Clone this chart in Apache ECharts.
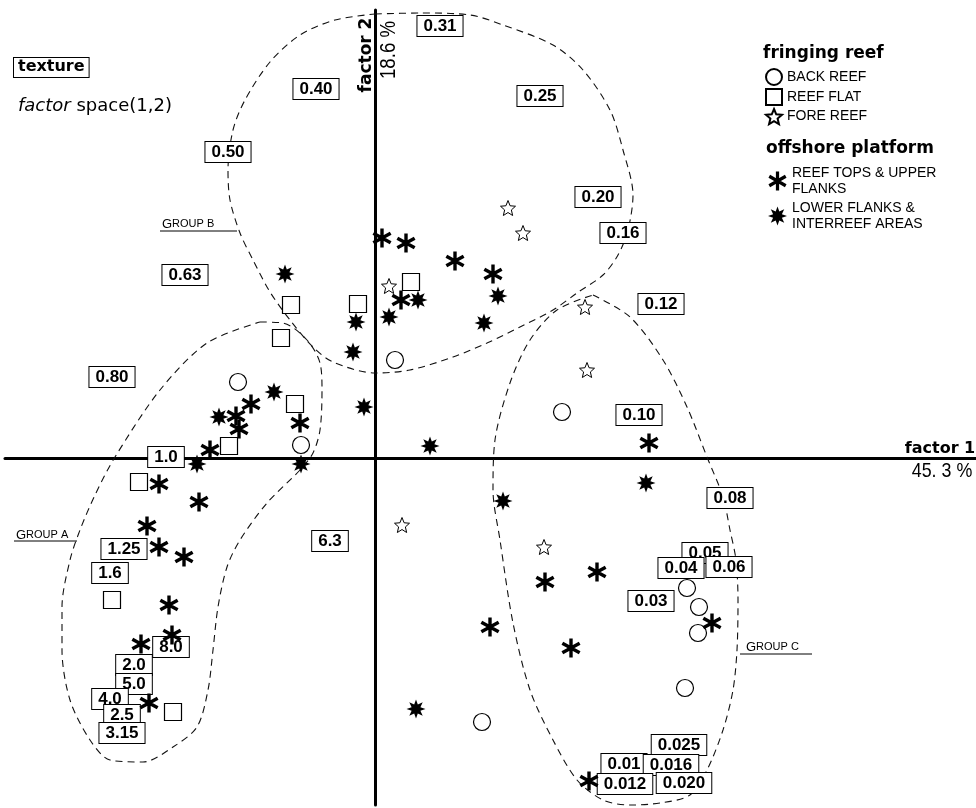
<!DOCTYPE html>
<html>
<head>
<meta charset="utf-8">
<script src="https://cdn.jsdelivr.net/npm/echarts@6/dist/echarts.min.js"></script>
<style>
  html, body { margin: 0; padding: 0; background: #fff; }
  #chart { width: 976px; height: 808px; }
</style>
</head>
<body>
<div id="chart"></div>
<script>
// Sample scores on factor 1 (x) and factor 2 (y)

// fringing reef
const backReef = [
  [-1.37, 0.76], [-0.74, 0.13], [0.20, 0.98], [1.87, 0.46], [3.12, -1.30],
  [3.24, -1.49], [3.23, -1.75], [3.10, -2.30], [1.07, -2.64]
];
const reefFlat = [
  [-0.84, 1.53], [-0.17, 1.54], [-0.94, 1.20], [-0.80, 0.54], [-1.46, 0.12],
  [-2.36, -0.24], [-2.63, -1.42], [-2.02, -2.54], [0.36, 1.76]
];
const foreReef = [
  [1.33, 2.50], [1.48, 2.25], [0.14, 1.72], [2.10, 1.51], [2.12, 0.88],
  [0.27, -0.67], [1.69, -0.89]
];

// offshore platform
const reefTops = [
  [0.07, 2.20], [0.31, 2.15], [0.80, 1.97], [1.18, 1.84], [0.26, 1.58],
  [-1.24, 0.54], [-1.39, 0.42], [-1.36, 0.29], [-0.75, 0.35], [-1.65, 0.08],
  [-2.16, -0.26], [-1.76, -0.44], [-2.28, -0.68], [-2.16, -0.89], [-1.91, -0.99],
  [-2.06, -1.47], [-2.03, -1.77], [-2.34, -1.86], [-2.26, -2.45], [2.74, 0.15],
  [2.22, -1.14], [1.70, -1.24], [1.15, -1.69], [1.96, -1.90], [3.37, -1.65],
  [2.14, -3.23]
];
const lowerFlanks = [
  [-0.90, 1.84], [-0.19, 1.36], [-0.22, 1.06], [0.14, 1.41], [0.43, 1.58],
  [1.23, 1.62], [1.09, 1.35], [-0.11, 0.51], [-1.01, 0.66], [-1.56, 0.41],
  [-1.78, -0.06], [-0.74, -0.06], [0.55, 0.12], [1.28, -0.43], [2.71, -0.25],
  [0.41, -2.51]
];

// texture (grain size) variables projected into the same factor space
const textureNames = [
  '0.31', '0.40', '0.25', '0.50', '0.20', '0.16', '0.63', '0.12', '0.80', '0.10',
  '1.0', '0.08', '6.3', '1.25', '1.6', '0.05', '0.04', '0.06', '0.03', '8.0',
  '2.0', '5.0', '4.0', '2.5', '3.15', '0.025', '0.01', '0.016', '0.012', '0.020'
];
const textureF1 = [
  0.65, -0.59, 1.65, -1.47, 2.23, 2.48, -1.90, 2.86, -2.63, 2.64,
  -2.09, 3.55, -0.45, -2.51, -2.65, 3.30, 3.06, 3.54, 2.76, -2.04,
  -2.41, -2.41, -2.65, -2.53, -2.53, 3.04, 2.49, 2.96, 2.50, 3.09
];
const textureF2 = [
  4.32, 3.69, 3.62, 3.06, 2.61, 2.25, 1.83, 1.54, 0.81, 0.43,
  0.01, -0.40, -0.83, -0.91, -1.15, -0.95, -1.10, -1.09, -1.43, -1.89,
  -2.07, -2.26, -2.41, -2.57, -2.75, -2.87, -3.06, -3.07, -3.26, -3.25
];

// outlines of the three sample groups
const groupA = [
  [-1.15, 1.36], [-0.92, 1.35], [-0.68, 1.18], [-0.55, 0.95], [-0.53, 0.68],
  [-0.55, 0.28], [-0.62, 0.05], [-0.75, -0.12], [-1.08, -0.45], [-1.35, -0.82],
  [-1.48, -1.09], [-1.57, -1.49], [-1.62, -1.92], [-1.67, -2.32], [-1.78, -2.69],
  [-2.02, -2.89], [-2.32, -3.04], [-2.65, -3.02], [-2.85, -2.82], [-3.05, -2.42],
  [-3.13, -1.92], [-3.13, -1.49], [-3.05, -1.02], [-2.95, -0.72], [-2.80, -0.37],
  [-2.60, 0.01], [-2.15, 0.68], [-1.68, 1.15], [-1.15, 1.36]
];
const groupB = [
  [0, 4.44], [0.45, 4.45], [0.95, 4.43], [1.28, 4.33], [1.78, 4.13],
  [2.08, 3.88], [2.35, 3.48], [2.48, 3.08], [2.58, 2.63], [2.53, 2.28],
  [2.43, 2.03], [2.28, 1.83], [2.02, 1.65], [1.78, 1.48], [1.45, 1.31],
  [1.12, 1.15], [0.78, 1.01], [0.35, 0.88], [0, 0.85], [-0.42, 0.96],
  [-0.62, 1.11], [-0.85, 1.38], [-1.05, 1.66], [-1.22, 1.98], [-1.35, 2.25],
  [-1.45, 2.58], [-1.47, 2.88], [-1.42, 3.28], [-1.30, 3.58], [-1.05, 3.96],
  [-0.75, 4.23], [-0.40, 4.38], [0, 4.44]
];
const groupC = [
  [2.18, 1.63], [2.55, 1.41], [2.88, 0.98], [3.12, 0.51], [3.32, 0.01],
  [3.48, -0.39], [3.55, -0.72], [3.61, -1.02], [3.63, -1.42], [3.62, -1.92],
  [3.58, -2.32], [3.48, -2.72], [3.32, -3.12], [3.15, -3.37], [2.85, -3.45],
  [2.55, -3.47], [2.28, -3.42], [2.02, -3.22], [1.78, -2.82], [1.55, -2.32],
  [1.38, -1.65], [1.25, -0.82], [1.18, -0.32], [1.20, 0.18], [1.35, 0.75],
  [1.55, 1.18], [1.82, 1.48], [2.18, 1.63]
];

// marker shapes
const ASTERISK = 'path://M-1.7,-10L1.7,-10L1.7,10L-1.7,10Z' +
  'M7.81,6.47L-9.51,-3.53L-7.81,-6.47L9.51,3.53Z' +
  'M-9.51,3.53L7.81,-6.47L9.51,-3.53L-7.81,6.47Z';
const STAR5 = 'path://M0,-10L2.645,-3.64L9.51,-3.09L4.28,1.39L5.88,8.09L0,4.5' +
  'L-5.88,8.09L-4.28,1.39L-9.51,-3.09L-2.645,-3.64Z';
const STAR8 = 'path://M0,-10L1.91,-4.62L7.07,-7.07L4.62,-1.91L10,0L4.62,1.91' +
  'L7.07,7.07L1.91,4.62L0,10L-1.91,4.62L-7.07,7.07L-4.62,1.91L-10,0' +
  'L-4.62,-1.91L-7.07,-7.07L-1.91,-4.62Z';

const legendLines = {
  'REEF TOPS & UPPER FLANKS': 'REEF TOPS & UPPER\nFLANKS',
  'LOWER FLANKS & INTERREEF AREAS': 'LOWER FLANKS &\nINTERREEF AREAS'
};

const openStyle = { color: '#fff', borderColor: '#000', borderWidth: 1.2, opacity: 1 };
const solidStyle = { color: '#000', borderWidth: 0, opacity: 1 };

function markerSeries(name, data, symbol, size, style) {
  return {
    name: name, type: 'scatter', data: data, symbol: symbol, symbolSize: size,
    itemStyle: style, z: 6, silent: true, emphasis: { disabled: true }
  };
}

function outlineSeries(name, data) {
  return {
    name: name, type: 'line', data: data, symbol: 'none', smooth: 0.3,
    clip: false, silent: true, z: 2,
    lineStyle: { color: '#111', width: 1.1, type: [7, 5], opacity: 1 }
  };
}

const textureData = textureNames.map((n, i) => ({ name: n, value: [textureF1[i], textureF2[i]] }));

const chart = echarts.init(document.getElementById('chart'), null, { renderer: 'canvas' });

const option = {
  animation: false,
  backgroundColor: '#fff',
  grid: { left: 5, right: 0, top: 10, bottom: 3, containLabel: false, outerBoundsMode: 'none' },
  xAxis: {
    type: 'value', min: -3.70, max: 6.01,
    axisLine: { onZero: true, lineStyle: { color: '#000', width: 3 } },
    axisTick: { show: false }, axisLabel: { show: false }, splitLine: { show: false }
  },
  yAxis: {
    type: 'value', min: -3.47, max: 4.48,
    axisLine: { onZero: true, lineStyle: { color: '#000', width: 3 } },
    axisTick: { show: false }, axisLabel: { show: false }, splitLine: { show: false }
  },
  legend: [
    {
      data: ['BACK REEF', 'REEF FLAT', 'FORE REEF'],
      orient: 'vertical', left: 760, top: 63,
      itemWidth: 16, itemHeight: 16, itemGap: 2,
      selectedMode: false,
      textStyle: { fontFamily: 'Liberation Sans', fontSize: 14, color: '#000' }
    },
    {
      data: ['REEF TOPS & UPPER FLANKS', 'LOWER FLANKS & INTERREEF AREAS'],
      orient: 'vertical', left: 763, top: 160,
      itemWidth: 19, itemHeight: 19, itemGap: 3,
      selectedMode: false,
      formatter: name => legendLines[name] || name,
      textStyle: { fontFamily: 'Liberation Sans', fontSize: 14, color: '#000', lineHeight: 16 }
    }
  ],
  graphic: [
    {
      type: 'text', left: 13, top: 57,
      style: {
        text: 'texture', font: 'bold 16px "DejaVu Sans"', fill: '#000',
        backgroundColor: '#fff', borderColor: '#000', borderWidth: 1, padding: [1, 4, 2, 4]
      }
    },
    {
      type: 'text', x: 18, y: 106,
      style: {
        text: '{i|factor} space(1,2)', fill: '#000', verticalAlign: 'middle',
        font: '18px "DejaVu Sans"',
        rich: { i: { fontStyle: 'italic', fontSize: 18, fontFamily: 'DejaVu Sans' } }
      }
    },
    {
      type: 'text', x: 367, y: 55, rotation: Math.PI / 2,
      style: { text: 'factor 2', font: 'bold 17px "DejaVu Sans"', fill: '#000', align: 'center', verticalAlign: 'middle' }
    },
    {
      type: 'text', x: 389, y: 50, rotation: Math.PI / 2, scaleX: 0.85,
      style: { text: '18.6 %', font: '22px "Liberation Sans"', fill: '#000', align: 'center', verticalAlign: 'middle' }
    },
    {
      type: 'text', x: 940, y: 449,
      style: { text: 'factor 1', font: 'bold 16px "DejaVu Sans"', fill: '#000', align: 'center', verticalAlign: 'middle' }
    },
    {
      type: 'text', x: 942, y: 471, scaleX: 0.85,
      style: { text: '45. 3 %', font: '21px "Liberation Sans"', fill: '#000', align: 'center', verticalAlign: 'middle' }
    },
    {
      type: 'text', x: 763, y: 54,
      style: { text: 'fringing reef', font: 'bold 17px "DejaVu Sans"', fill: '#000', verticalAlign: 'middle' }
    },
    {
      type: 'text', x: 766, y: 149,
      style: { text: 'offshore platform', font: 'bold 17px "DejaVu Sans"', fill: '#000', verticalAlign: 'middle' }
    },
    {
      type: 'text', x: 162, y: 224,
      style: {
        text: '{g|G}ROUP B', font: '11px "Liberation Sans"', fill: '#000', verticalAlign: 'middle',
        rich: { g: { fontSize: 13, fontFamily: 'Liberation Sans' } }
      }
    },
    { type: 'line', shape: { x1: 160, y1: 231, x2: 237, y2: 231 }, style: { stroke: '#000', lineWidth: 1 } },
    {
      type: 'text', x: 16, y: 535,
      style: {
        text: '{g|G}ROUP A', font: '11px "Liberation Sans"', fill: '#000', verticalAlign: 'middle',
        rich: { g: { fontSize: 13, fontFamily: 'Liberation Sans' } }
      }
    },
    { type: 'line', shape: { x1: 14, y1: 541, x2: 77, y2: 541 }, style: { stroke: '#000', lineWidth: 1 } },
    {
      type: 'text', x: 746, y: 647,
      style: {
        text: '{g|G}ROUP C', font: '11px "Liberation Sans"', fill: '#000', verticalAlign: 'middle',
        rich: { g: { fontSize: 13, fontFamily: 'Liberation Sans' } }
      }
    },
    { type: 'line', shape: { x1: 740, y1: 654, x2: 812, y2: 654 }, style: { stroke: '#000', lineWidth: 1 } }
  ],
  series: [
    outlineSeries('GROUP A', groupA),
    outlineSeries('GROUP B', groupB),
    outlineSeries('GROUP C', groupC),
    {
      name: 'texture', type: 'scatter', data: textureData, symbolSize: 1,
      itemStyle: { color: 'rgba(0,0,0,0)', opacity: 1 }, z: 4, silent: true,
      label: {
        show: true, position: 'inside', formatter: '{b}', opacity: 1,
        fontFamily: 'Liberation Sans', fontWeight: 'bold', fontSize: 17, color: '#000',
        lineHeight: 17, backgroundColor: '#fff', borderColor: '#000', borderWidth: 1,
        padding: [2, 6, 1, 6]
      }
    },
    markerSeries('BACK REEF', backReef, 'circle', 17, openStyle),
    markerSeries('REEF FLAT', reefFlat, 'rect', 17, openStyle),
    markerSeries('FORE REEF', foreReef, STAR5, 15, { color: '#fff', borderColor: '#000', borderWidth: 1, opacity: 1 }),
    markerSeries('REEF TOPS & UPPER FLANKS', reefTops, ASTERISK, 19, solidStyle),
    markerSeries('LOWER FLANKS & INTERREEF AREAS', lowerFlanks, STAR8, 19, solidStyle)
  ]
};

chart.setOption(option);
</script>
</body>
</html>
